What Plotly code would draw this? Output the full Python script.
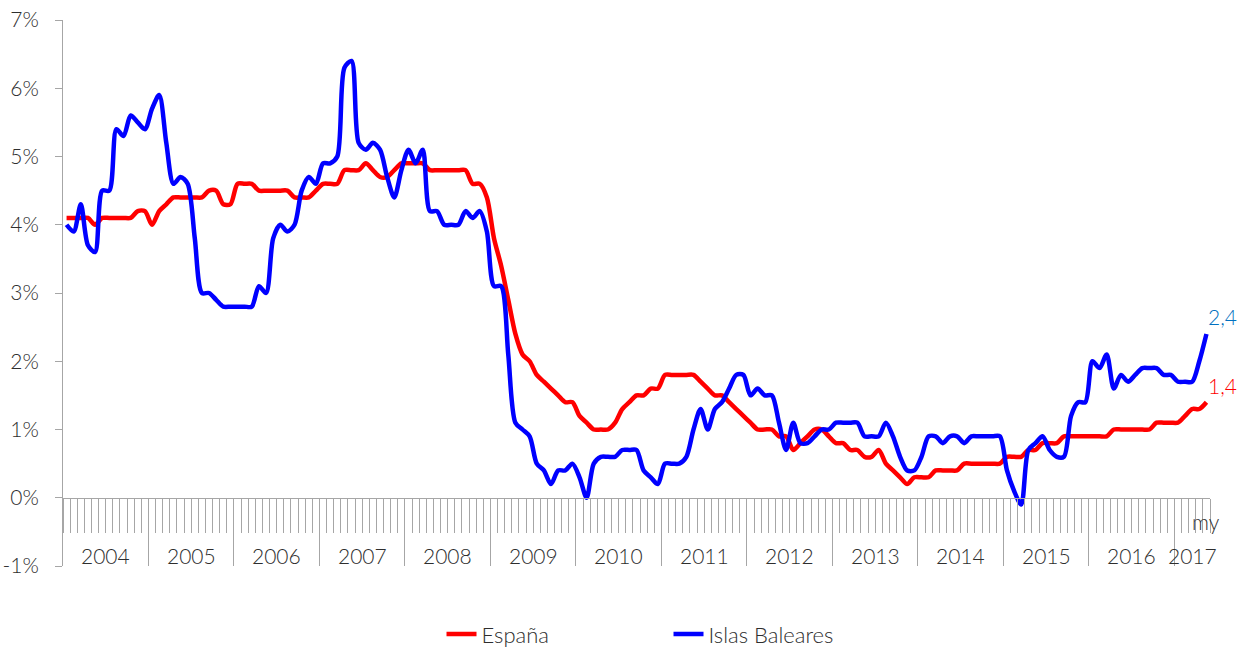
import plotly.graph_objects as go

# ---------------- data ----------------
years = ["2004", "2005", "2006", "2007", "2008", "2009", "2010",
         "2011", "2012", "2013", "2014", "2015", "2016", "2017"]
months_per_year = [12, 12, 12, 12, 12, 12, 12, 12, 12, 12, 12, 12, 12, 5]
last_month_label = "my"
y_ticks = [-1, 0, 1, 2, 3, 4, 5, 6, 7]
y_ticklabels = ["-1%", "0%", "1%", "2%", "3%", "4%", "5%", "6%", "7%"]

espana = [
    4.1, 4.1, 4.1, 4.1, 4.0, 4.1, 4.1, 4.1, 4.1, 4.1, 4.2, 4.2,   # 2004
    4.0, 4.2, 4.3, 4.4, 4.4, 4.4, 4.4, 4.4, 4.5, 4.5, 4.3, 4.3,   # 2005
    4.6, 4.6, 4.6, 4.5, 4.5, 4.5, 4.5, 4.5, 4.4, 4.4, 4.4, 4.5,   # 2006
    4.6, 4.6, 4.6, 4.8, 4.8, 4.8, 4.9, 4.8, 4.7, 4.7, 4.8, 4.9,   # 2007
    4.9, 4.9, 4.9, 4.8, 4.8, 4.8, 4.8, 4.8, 4.8, 4.6, 4.6, 4.4,   # 2008
    3.8, 3.4, 2.9, 2.4, 2.1, 2.0, 1.8, 1.7, 1.6, 1.5, 1.4, 1.4,   # 2009
    1.2, 1.1, 1.0, 1.0, 1.0, 1.1, 1.3, 1.4, 1.5, 1.5, 1.6, 1.6,   # 2010
    1.8, 1.8, 1.8, 1.8, 1.8, 1.7, 1.6, 1.5, 1.5, 1.4, 1.3, 1.2,   # 2011
    1.1, 1.0, 1.0, 1.0, 0.9, 0.9, 0.7, 0.8, 0.9, 1.0, 1.0, 0.9,   # 2012
    0.8, 0.8, 0.7, 0.7, 0.6, 0.6, 0.7, 0.5, 0.4, 0.3, 0.2, 0.3,   # 2013
    0.3, 0.3, 0.4, 0.4, 0.4, 0.4, 0.5, 0.5, 0.5, 0.5, 0.5, 0.5,   # 2014
    0.6, 0.6, 0.6, 0.7, 0.7, 0.8, 0.8, 0.8, 0.9, 0.9, 0.9, 0.9,   # 2015
    0.9, 0.9, 0.9, 1.0, 1.0, 1.0, 1.0, 1.0, 1.0, 1.1, 1.1, 1.1,   # 2016
    1.1, 1.2, 1.3, 1.3, 1.4,                                      # 2017
]

baleares = [
    4.0, 3.9, 4.3, 3.7, 3.6, 4.5, 4.5, 5.4, 5.3, 5.6, 5.5, 5.4,   # 2004
    5.7, 5.9, 5.2, 4.6, 4.7, 4.6, 3.8, 3.0, 3.0, 2.9, 2.8, 2.8,   # 2005
    2.8, 2.8, 2.8, 3.1, 3.0, 3.8, 4.0, 3.9, 4.0, 4.5, 4.7, 4.6,   # 2006
    4.9, 4.9, 5.0, 6.3, 6.4, 5.2, 5.1, 5.2, 5.1, 4.7, 4.4, 4.8,   # 2007
    5.1, 4.9, 5.1, 4.2, 4.2, 4.0, 4.0, 4.0, 4.2, 4.1, 4.2, 3.9,   # 2008
    3.1, 3.1, 2.1, 1.1, 1.0, 0.9, 0.5, 0.4, 0.2, 0.4, 0.4, 0.5,   # 2009
    0.3, 0.0, 0.5, 0.6, 0.6, 0.6, 0.7, 0.7, 0.7, 0.4, 0.3, 0.2,   # 2010
    0.5, 0.5, 0.5, 0.6, 1.0, 1.3, 1.0, 1.3, 1.4, 1.6, 1.8, 1.8,   # 2011
    1.5, 1.6, 1.5, 1.5, 1.1, 0.7, 1.1, 0.8, 0.8, 0.9, 1.0, 1.0,   # 2012
    1.1, 1.1, 1.1, 1.1, 0.9, 0.9, 0.9, 1.1, 0.9, 0.6, 0.4, 0.4,   # 2013
    0.6, 0.9, 0.9, 0.8, 0.9, 0.9, 0.8, 0.9, 0.9, 0.9, 0.9, 0.9,   # 2014
    0.4, 0.1, -0.1, 0.7, 0.8, 0.9, 0.7, 0.6, 0.6, 1.2, 1.4, 1.4,  # 2015
    2.0, 1.9, 2.1, 1.6, 1.8, 1.7, 1.8, 1.9, 1.9, 1.9, 1.8, 1.8,   # 2016
    1.7, 1.7, 1.7, 2.0, 2.4,                                      # 2017
]

series_names = ["España", "Islas Baleares"]

# ---------------- derived positions ----------------
n = len(espana)
idx = list(range(n))
month_bounds = [i - 0.5 for i in range(n + 1)]
year_bounds = [-0.5]
for m in months_per_year:
    year_bounds.append(year_bounds[-1] + m)
year_centers = [(year_bounds[k] + year_bounds[k + 1]) / 2 for k in range(len(years))]

AX = "#A6A6A6"
TXT = "#2E2E2E"
FONT = "'Lato Light', Lato, 'Open Sans', sans-serif"
FS = 21

fig = go.Figure()
fig.add_trace(go.Scatter(
    x=idx, y=espana, mode="lines", name=series_names[0],
    line=dict(color="#FF0000", width=4.5, shape="spline", smoothing=0.8),
))
fig.add_trace(go.Scatter(
    x=idx, y=baleares, mode="lines", name=series_names[1],
    line=dict(color="#0000FF", width=4.5, shape="spline", smoothing=0.8),
))
# carriers for the decorative category axes
fig.add_trace(go.Scatter(x=[None], y=[None], xaxis="x2", showlegend=False, hoverinfo="skip"))
fig.add_trace(go.Scatter(x=[None], y=[None], xaxis="x3", showlegend=False, hoverinfo="skip"))

rng = [-0.5, n - 0.5]
fig.update_layout(
    width=1240, height=647,
    margin=dict(l=63, r=30, t=20, b=81, autoexpand=False),
    paper_bgcolor="white", plot_bgcolor="white",
    font=dict(family=FONT, size=FS, color=TXT),
    xaxis=dict(range=rng, visible=False, showgrid=False, zeroline=False),
    xaxis2=dict(range=rng, overlaying="x", anchor="free", position=0.125,
                showline=True, linecolor=AX, linewidth=1,
                ticks="outside", ticklen=34, tickcolor=AX, tickwidth=1,
                tickmode="array", tickvals=month_bounds, showticklabels=False,
                showgrid=False, zeroline=False),
    xaxis3=dict(range=rng, overlaying="x", anchor="y", side="bottom",
                showline=False, ticks="inside", ticklen=68, tickcolor=AX, tickwidth=1,
                tickmode="array", tickvals=year_bounds, showticklabels=False,
                showgrid=False, zeroline=False),
    yaxis=dict(range=[-1, 7], tickmode="array", tickvals=y_ticks, ticktext=y_ticklabels,
               showline=True, linecolor=AX, linewidth=1,
               ticks="outside", ticklen=7, tickcolor=AX, tickwidth=1,
               showgrid=False, zeroline=False, ticklabelstandoff=12,
               tickfont=dict(size=FS, color=TXT)),
    legend=dict(orientation="h", x=0.330, xanchor="left", y=-0.125, yanchor="middle",
                font=dict(size=22, color=TXT), entrywidth=182, entrywidthmode="pixels"),
    showlegend=True,
)

annotations = []
for yr, xc in zip(years, year_centers):
    annotations.append(dict(x=xc, y=-0.85, xref="x", yref="y", text=yr, showarrow=False,
                            font=dict(size=FS, color=TXT), xanchor="center", yanchor="middle"))
annotations.append(dict(x=idx[-1], y=-0.35, xref="x", yref="y", text=last_month_label,
                        showarrow=False, font=dict(size=FS, color=TXT),
                        xanchor="center", yanchor="middle"))
annotations.append(dict(x=idx[-1], y=baleares[-1], xref="x", yref="y",
                        text=f"{baleares[-1]:.1f}".replace(".", ","), showarrow=False,
                        font=dict(size=FS, color="#0070C0"), xshift=16, yshift=17))
annotations.append(dict(x=idx[-1], y=espana[-1], xref="x", yref="y",
                        text=f"{espana[-1]:.1f}".replace(".", ","), showarrow=False,
                        font=dict(size=FS, color="#FF0000"), xshift=16, yshift=17))
fig.update_layout(annotations=annotations)

fig.write_html(
    "out.html",
    config={"displayModeBar": False},
    post_script="document.body.style.margin='0';document.body.style.overflow='hidden';",
)
